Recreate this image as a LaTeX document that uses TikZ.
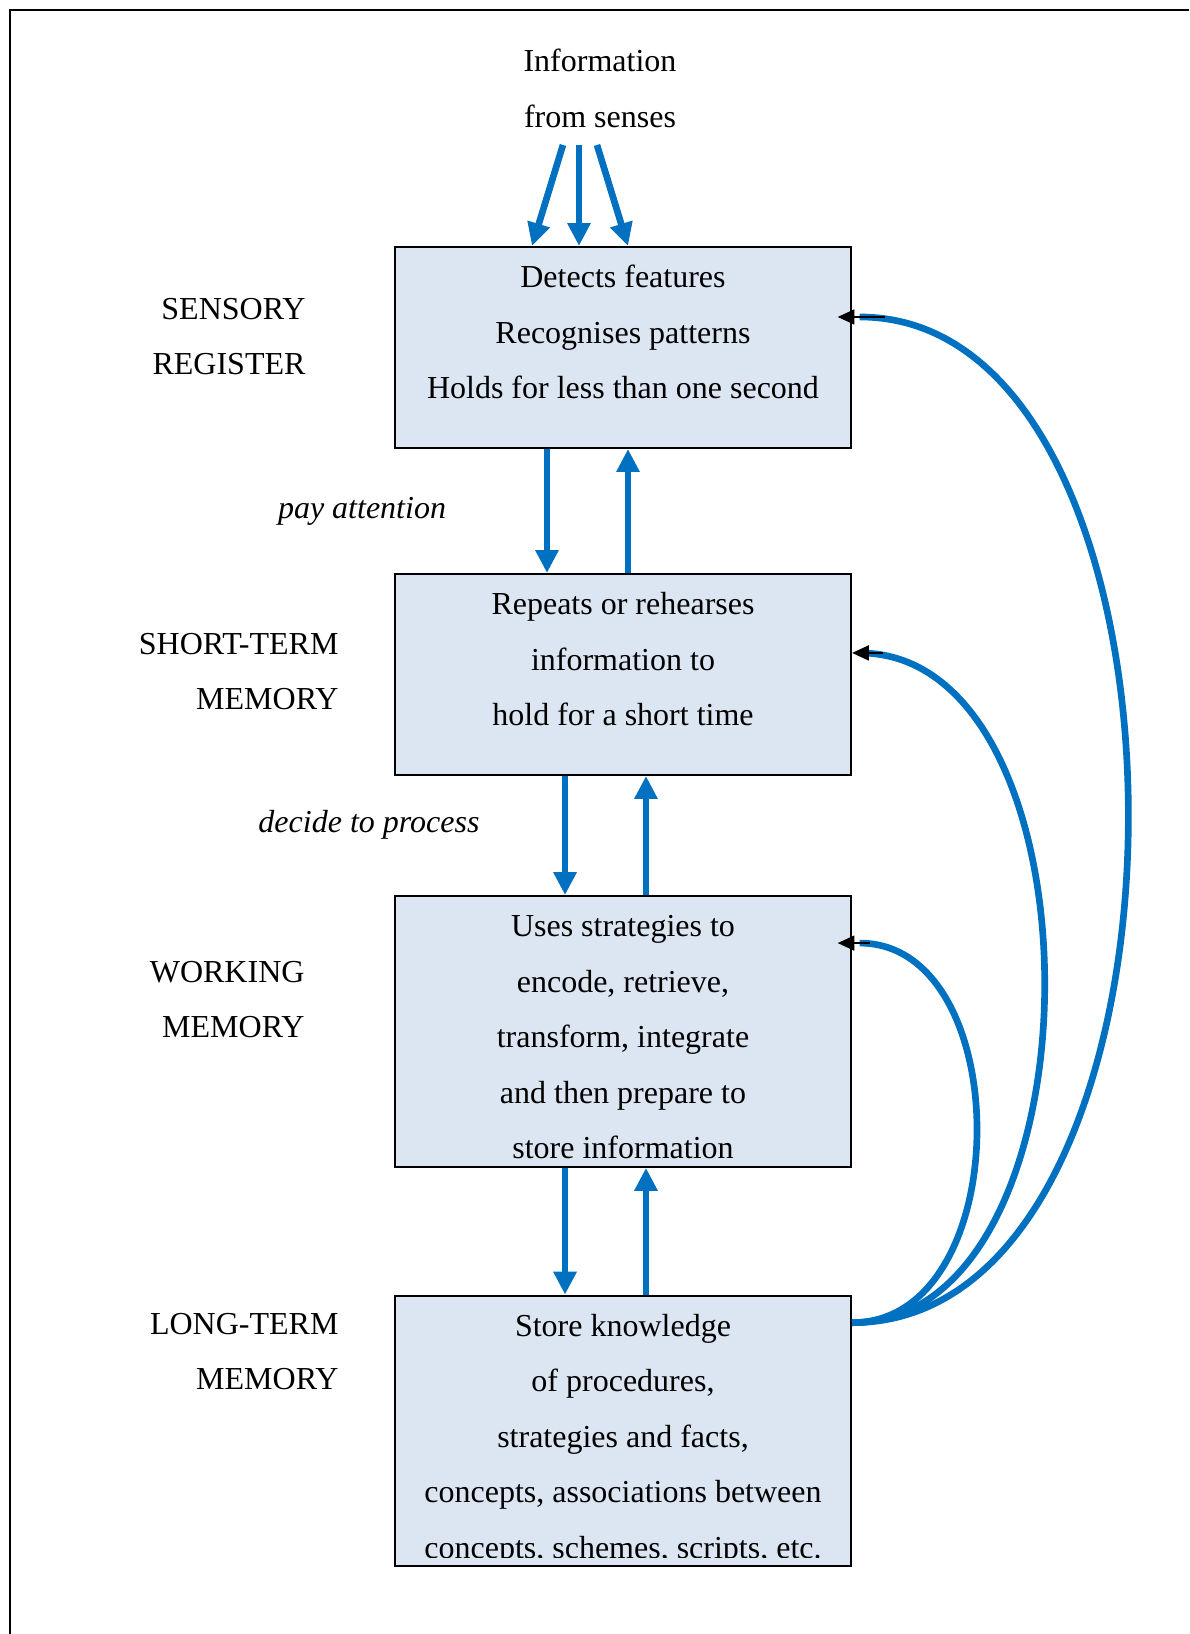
\documentclass[tikz,border=0pt]{standalone}
\usepackage{fontspec}
\setmainfont{Liberation Serif}
\usepackage{tikz}
\usetikzlibrary{arrows.meta, positioning}
\definecolor{flowblue}{HTML}{0070C0}
\definecolor{boxfill}{HTML}{DCE6F2}
\newcommand{\diagfont}{\fontsize{12}{20.8}\selectfont}
\tikzstyle{membox} = [rectangle, draw, line width=0.75pt, fill=boxfill, minimum width=6.01cm, inner sep=0pt]
\tikzstyle{boxtext} = [align=center, inner sep=0pt]
\tikzstyle{stage} = [align=right, inner sep=0pt, anchor=north east]
\tikzstyle{cue} = [font=\diagfont\itshape, inner sep=0pt, anchor=base]
\tikzstyle{flow} = [draw=flowblue, line width=2.5pt, -{Triangle[width=8.3pt, length=8.6pt]}]
\tikzstyle{feedback} = [draw=flowblue, line width=2.5pt]
\tikzstyle{backtip} = [draw, line width=1pt, -{Triangle[width=5.5pt, length=6.3pt]}]

\begin{document}
\begin{tikzpicture}[font=\diagfont]
	\useasboundingbox (0,0) rectangle (15.671,21.536);
	\draw [line width=1pt] (0.132,0) -- (0.132,21.404) -- (15.671,21.404);

	\node [membox, minimum height=2.65cm] (sr) at (8.211,16.956) {};
	\node [membox, minimum height=2.65cm] (stm) at (8.211,12.646) {};
	\node [membox, minimum height=3.57cm] (wm) at (8.211,7.941) {};
	\node [membox, minimum height=3.57cm] (ltm) at (8.211,2.675) {};

	\node [boxtext, below=0.03cm of sr.north] (sr text) {\strut Detects features\\Recognises patterns\\Holds for less than one second};
	\node [boxtext, below=0.03cm of stm.north] (stm text) {\strut Repeats or rehearses\\information to\\hold for a short time};
	\node [boxtext, below=0.03cm of wm.north] (wm text) {\strut Uses strategies to\\encode, retrieve,\\transform, integrate\\and then prepare to\\store information};
	\begin{scope}
		\clip ([yshift=0.13cm]ltm.south west) rectangle (ltm.north east);
		\node [boxtext, below=0.03cm of ltm.north] (ltm text) {\strut Store knowledge\\of procedures,\\strategies and facts,\\concepts, associations between\\concepts, schemes, scripts, etc.};
	\end{scope}

	\node [boxtext, anchor=north] (info) at (7.908,21.11) {\strut Information\\from senses};

	\node [stage] (sensory) at (4.033,17.845) {\strut SENSORY\\REGISTER};
	\node [stage] (short) at (4.468,13.430) {\strut SHORT-TERM\\MEMORY};
	\node [stage] (working) at (4.020,9.107) {\strut WORKING\\MEMORY};
	\node [stage] (long) at (4.468,4.468) {\strut LONG-TERM\\MEMORY};

	\node [cue] (attend) at (4.771,14.707) {pay attention};
	\node [cue] (decide) at (4.863,10.570) {decide to process};

	% input from the senses
	\coordinate (in1) at (7.420,19.625);
	\coordinate (in2) at (7.631,19.625);
	\coordinate (in3) at (7.868,19.625);
	\draw [flow] (in1) -- ([xshift=-1.199cm]sr.north);
	\draw [flow] (in2) -- ([xshift=-0.580cm]sr.north);
	\draw [flow] (in3) -- ([xshift=0.066cm]sr.north);

	\draw [flow] ([xshift=-1.002cm]sr.south) -- ([xshift=-1.002cm]stm.north);
	\draw [flow] ([xshift=0.066cm]stm.north) -- ([xshift=0.066cm]sr.south);
	\draw [flow] ([xshift=-0.764cm]stm.south) -- ([xshift=-0.764cm]wm.north);
	\draw [flow] ([xshift=0.303cm]wm.north) -- ([xshift=0.303cm]stm.south);
	\draw [flow] ([xshift=-0.764cm]wm.south) -- ([xshift=-0.764cm]ltm.north);
	\draw [flow] ([xshift=0.303cm]ltm.north) -- ([xshift=0.303cm]wm.south);

	% retrieval back up
	\coordinate (fbout) at ([yshift=-0.37cm]ltm.north east);
	\coordinate (fb1) at ([yshift=-0.936cm]sr.north east);
	\coordinate (fb2) at ([yshift=-1.054cm]stm.north east);
	\coordinate (fb3) at ([yshift=-0.633cm]wm.north east);
	\draw [feedback] (fbout) .. controls +(4.84,0) and +(4.74,0) .. ([xshift=0.1cm]fb1);
	\draw [feedback] (fbout) .. controls +(3.37,0) and +(3.27,0) .. ([xshift=0.1cm]fb2);
	\draw [feedback] (fbout) .. controls +(2.18,0) and +(2.08,0) .. ([xshift=0.1cm]fb3);
	\draw [backtip] ([xshift=0.43cm]fb1) -- ([xshift=-0.19cm]fb1);
	\draw [backtip] ([xshift=0.41cm]fb2) -- (fb2);
	\draw [backtip] ([xshift=0.24cm]fb3) -- ([xshift=-0.19cm]fb3);
\end{tikzpicture}
\end{document}
